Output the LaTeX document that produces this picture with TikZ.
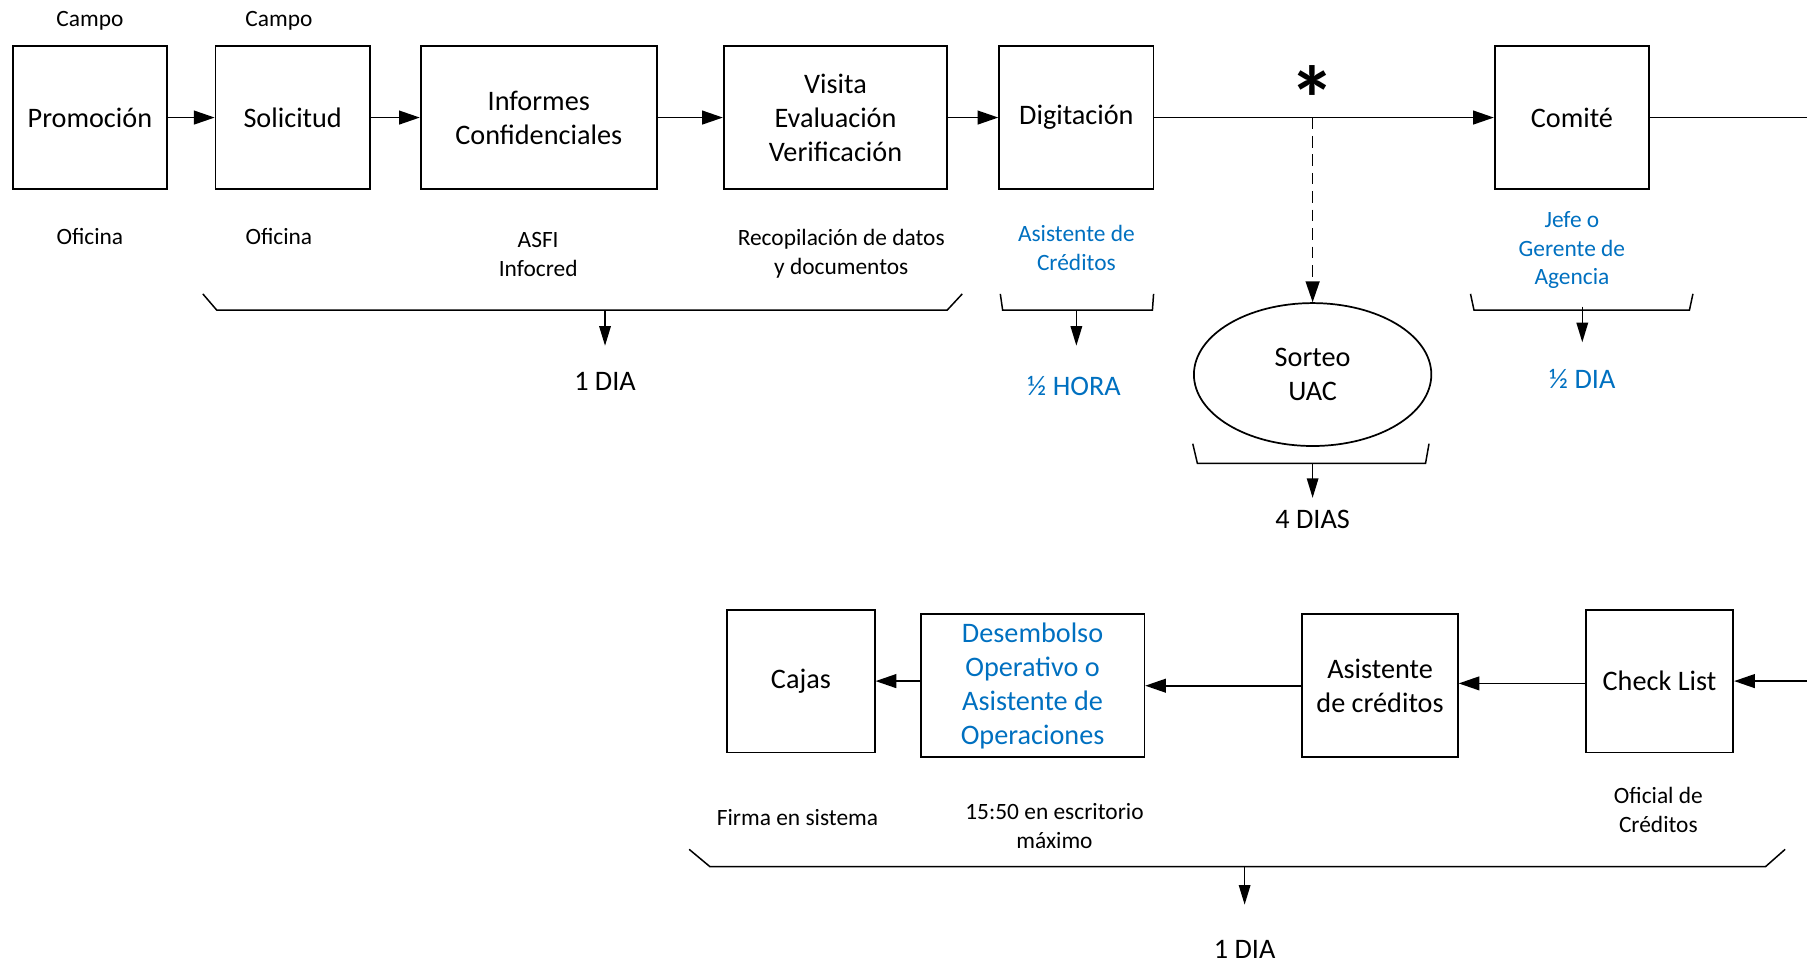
\documentclass[tikz,border=0pt]{standalone}
\usepackage{fontspec}
\setmainfont{Carlito}
\usetikzlibrary{arrows.meta,shapes.geometric}
\definecolor{obl}{RGB}{0,112,192}
\begin{document}
\begin{tikzpicture}[x=1pt,y=-1pt,
  box/.style={draw, line width=1.5pt, inner sep=0pt, align=center, font=\fontsize{24.5}{29.5}\selectfont},
  lbl/.style={inner sep=0pt, align=center, font=\fontsize{20.3}{25}\selectfont},
  big/.style={inner sep=0pt, align=center, font=\fontsize{24.5}{29.5}\selectfont},
  flow/.style={line width=1.4pt, -{Triangle[length=18pt,width=12pt]}},
  dur/.style={line width=1.3pt, -{Triangle[length=17pt,width=10pt]}},
  bracket/.style={line width=1.3pt},
  bluetext/.style={text=obl}]
\useasboundingbox (0,0) rectangle (1568,836);

% ---- row 1 boxes
\node[box, minimum width=134pt, minimum height=124pt] (prom) at (78,102) {Promoción};
\node[box, minimum width=134pt, minimum height=124pt] (sol) at (254,102) {Solicitud};
\node[box, minimum width=205pt, minimum height=124pt] (inf) at (467.5,102) {Informes\\Confidenciales};
\node[box, minimum width=194pt, minimum height=124pt] (vis) at (725,102) {Visita\\Evaluación\\Verificación};
\node[box, minimum width=134pt, minimum height=124pt] (dig) at (934,102) {Digitación};
\node[box, minimum width=134pt, minimum height=124pt] (com) at (1364,102) {Comité};
\coordinate (redge1) at (1568,102);
\coordinate (ast) at (1139,102);

\draw[flow] (prom) -- (sol);
\draw[flow] (sol) -- (inf);
\draw[flow] (inf) -- (vis);
\draw[flow] (vis) -- (dig);
\draw[flow] (dig) -- (com);
\draw[line width=1.4pt] (com) -- (redge1);

\node[inner sep=0pt, anchor=north, font=\fontsize{80}{80}\selectfont\bfseries] (star) at (1139,57) {*};

\node[draw, ellipse, line width=1.5pt, minimum width=206pt, minimum height=124pt, inner sep=0pt, align=center, font=\fontsize{24.5}{29.5}\selectfont] (sorteo) at (1139,325) {Sorteo\\UAC};
\draw[flow, dash pattern=on 10pt off 6pt] (ast) -- (sorteo.north);

% ---- row 1 labels
\node[lbl] (campo1) at (78,18) {Campo};
\node[lbl] (campo2) at (242,18) {Campo};
\node[lbl] (ofi1) at (78,205) {Oficina};
\node[lbl] (ofi2) at (242,205) {Oficina};
\node[lbl] (asfi) at (467,220.5) {ASFI\\Infocred};
\node[lbl] (reco) at (730,220.5) {Recopilación de datos\\y documentos};
\node[lbl, bluetext] (asis) at (934,215.5) {Asistente de\\Créditos};
\node[lbl, bluetext] (jefe) at (1364,217) {Jefe o\\Gerente de\\Agencia};

% ---- brackets row 1
\draw[bracket] (176,255) -- (188,269) -- (822,269) -- (835,255);
\coordinate (b1) at (525,269); \coordinate (b1e) at (525,300);
\draw[dur] (b1) -- (b1e);
\node[big] (dia1) at (525,331) {1 DIA};

\draw[bracket] (868,255) -- (870,269) -- (1000,269) -- (1001,255);
\coordinate (b2) at (934,269); \coordinate (b2e) at (934,300);
\draw[dur] (b2) -- (b2e);
\node[big, bluetext] (hora) at (932,335) {½ HORA};

\draw[bracket] (1035,385) -- (1039,402) -- (1237,402) -- (1240,385);
\coordinate (b3) at (1139,402); \coordinate (b3e) at (1139,432);
\draw[dur] (b3) -- (b3e);
\node[big] (dias4) at (1139,451) {4 DIAS};

\draw[bracket] (1276,255) -- (1279,269) -- (1466,269) -- (1469,255);
\coordinate (b4) at (1373,266); \coordinate (b4e) at (1373,297);
\draw[dur] (b4) -- (b4e);
\node[big, bluetext] (mdia) at (1373,329) {½ DIA};

% ---- row 2 boxes
\node[box, minimum width=128pt, minimum height=124pt] (cajas) at (695,591) {Cajas};
\node[box, minimum width=194pt, minimum height=124pt, bluetext] (desem) at (896,595) {Desembolso\\Operativo o\\Asistente de\\Operaciones};
\node[box, minimum width=135pt, minimum height=124pt] (asist) at (1197.5,595) {Asistente\\de créditos};
\node[box, minimum width=128pt, minimum height=124pt] (check) at (1440,591) {Check List};
\coordinate (redge2) at (1568,591);

\draw[flow] (redge2) -- (check);
\draw[flow] ([yshift=-2pt]check.west) -- ([yshift=-2pt]check.west -| asist.east);
\draw[flow] (asist.west) -- (asist.west -| desem.east);
\draw[flow] (cajas.east -| desem.west) -- (cajas.east);

% ---- row 2 labels
\node[lbl] (firma) at (692,709) {Firma en sistema};
\node[lbl] (hora1550) at (915,716.5) {15:50 en escritorio\\máximo};
\node[lbl] (oficial) at (1439,703) {Oficial de\\Créditos};

\draw[bracket] (598,737) -- (616,752) -- (1532,752) -- (1549,737);
\coordinate (b5) at (1080,752); \coordinate (b5e) at (1080,785);
\draw[dur] (b5) -- (b5e);
\node[big] (dia2) at (1080,824) {1 DIA};
\end{tikzpicture}
\end{document}
